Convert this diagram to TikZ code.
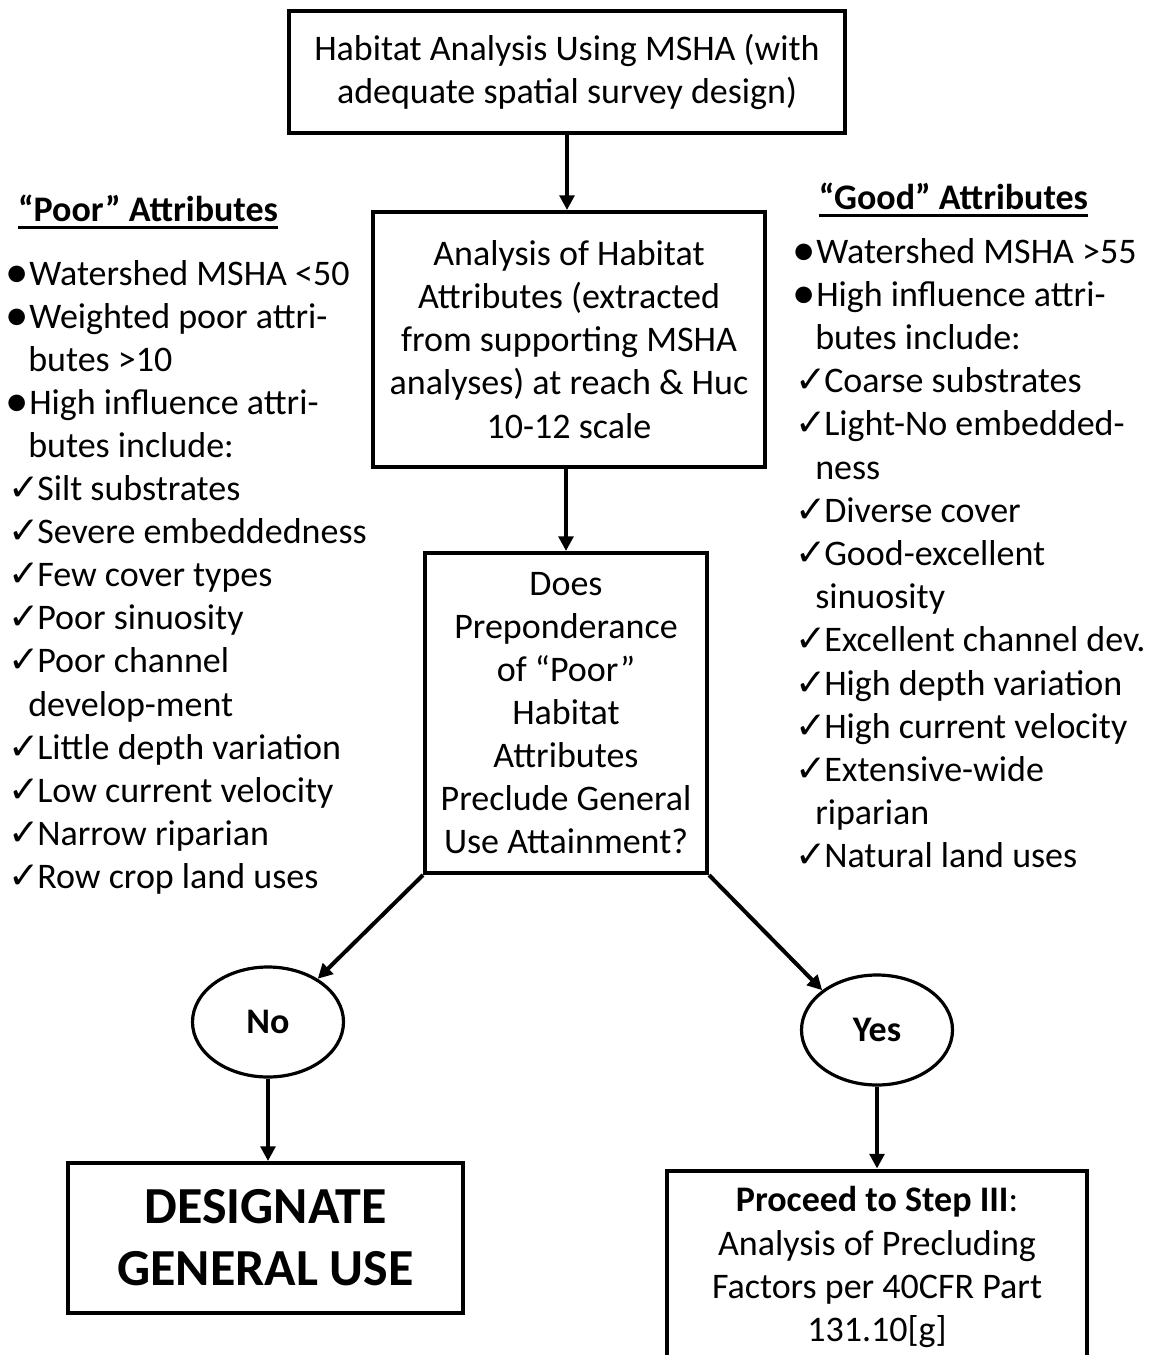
\documentclass[tikz,border=0pt]{standalone}
\usepackage{fontspec}
\usepackage{graphicx}
\setmainfont{Carlito}
\newfontfamily\checkfont{DejaVu Sans}
\usetikzlibrary{arrows.meta,shapes.geometric}

% list markers
\newcommand{\bul}{\makebox[15.75pt][l]{\hspace*{-1.75pt}\raisebox{-1.8pt}{\scalebox{1.3}{•}}}}
\newcommand{\chk}{\makebox[21.75pt][l]{\checkfont\fontsize{28}{28}\selectfont ✓}}
\newcommand{\cnt}{\hspace*{15pt}}
% thick underline for the headings
\newcommand{\thickul}[1]{\setbox0\hbox{#1}\rlap{\rule[-5.25pt]{\wd0}{2.25pt}}\box0}

\tikzset{
  flowbox/.style={draw, line width=3pt, align=center, inner sep=0pt, font=\fontsize{27}{32.3}\selectfont},
  answer/.style={draw, ellipse, line width=2.4pt, inner sep=0pt, minimum width=113.25pt, minimum height=82.5pt, font=\bfseries\fontsize{27}{32.3}\selectfont},
  flowarrow/.style={line width=3pt, -{Triangle[length=11pt,width=11pt]}},
  listline/.style={anchor=base west, inner sep=0pt, font=\fontsize{27}{32.3}\selectfont},
  heading/.style={anchor=base, inner sep=0pt, font=\bfseries\fontsize{27}{32.3}\selectfont}
}

\begin{document}
\begin{tikzpicture}[x=0.75pt, y=-0.75pt]
	\useasboundingbox (0,0) rectangle (1151,1355);

	% Main flow
	\node[flowbox, minimum width=417pt, minimum height=91.5pt] (survey) at (567,72)
		{Habitat Analysis Using MSHA (with\\adequate spatial survey design)};
	\node[flowbox, minimum width=294pt, minimum height=191.25pt] (attrib) at (569,339.5)
		{Analysis of Habitat\\Attributes (extracted\\from supporting MSHA\\analyses) at reach \& Huc\\10-12 scale};
	\node[flowbox, minimum width=211.5pt, minimum height=240pt] (decide) at (566,713)
		{Does\\Preponderance\\of “Poor”\\Habitat\\Attributes\\Preclude General\\Use Attainment?};

	% Answers
	\node[answer] (no) at (268,1022) {No};
	\node[answer] (yes) at (877,1030) {Yes};

	% Outcomes
	\node[flowbox, minimum width=296.25pt, minimum height=112.5pt, font=\bfseries\fontsize{39}{46.5}\selectfont] (general) at (265.5,1238)
		{DESIGNATE\\GENERAL USE};
	\node[flowbox, minimum width=315pt, minimum height=144.75pt] (stepthree) at (877,1267)
		{\textbf{Proceed to Step III}:\\Analysis of Precluding\\Factors per 40CFR Part\\131.10[g]};

	% Arrows
	\draw[flowarrow] (survey.south) -- (survey.south |- attrib.north);
	\draw[flowarrow] (decide.north |- attrib.south) -- (decide.north);
	\draw[flowarrow] (decide.south west) -- (no.41);
	\draw[flowarrow] (decide.south east) -- (yes.144);
	\draw[flowarrow] (no.south) -- (no.south |- general.north);
	\draw[flowarrow] (yes.south) -- (stepthree.north);

	% Poor attributes
	\node[heading] (poorhead) at (148,222) {\thickul{“Poor” Attributes}};
	\foreach \m/\t [count=\i from 0] in {\bul/Watershed MSHA <50, \bul/Weighted poor attri-, \cnt/butes >10,
		\bul/High influence attri-, \cnt/butes include:, \chk/Silt substrates, \chk/Severe embeddedness,
		\chk/Few cover types, \chk/Poor sinuosity, \chk/Poor channel, \cnt/develop-ment,
		\chk/Little depth variation, \chk/Low current velocity, \chk/Narrow riparian, \chk/Row crop land uses}
		\node[listline] (poor-\i) at (8,{285+43.1*\i}) {\m\t};

	% Good attributes
	\node[heading] (goodhead) at (953.5,210) {\thickul{“Good” Attributes}};
	\foreach \m/\t [count=\i from 0] in {\bul/Watershed MSHA >55, \bul/High influence attri-, \cnt/butes include:,
		\chk/Coarse substrates, \chk/Light-No embedded-, \cnt/ness, \chk/Diverse cover,
		\chk/Good-excellent, \cnt/sinuosity, \chk/Excellent channel dev., \chk/High depth variation,
		\chk/High current velocity, \chk/Extensive-wide, \cnt/riparian, \chk/Natural land uses}
		\node[listline] (good-\i) at (795,{263+43.2*\i}) {\m\t};
\end{tikzpicture}
\end{document}
